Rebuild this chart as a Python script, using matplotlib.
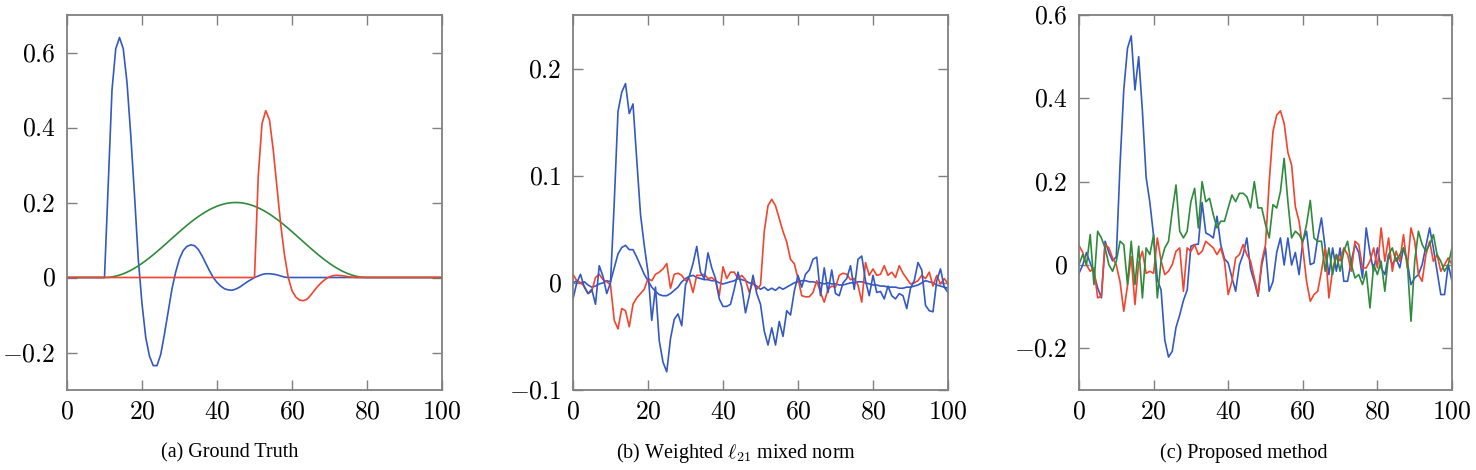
import matplotlib
matplotlib.use("Agg")
import matplotlib.pyplot as plt
import numpy as np

plt.rcParams['mathtext.fontset'] = 'cm'
plt.rcParams['font.family'] = ['Liberation Serif', 'DejaVu Serif']

# ---------------- data ----------------
x = list(range(0, 101))

# (a) Ground truth
gt_blue = [0]*11 + [
    0.25, 0.50, 0.61, 0.64, 0.61, 0.52, 0.38, 0.22, 0.05, -0.07,
    -0.16, -0.21, -0.235, -0.235, -0.205, -0.15, -0.09, -0.03, 0.015, 0.05,
    0.072, 0.083, 0.087, 0.085, 0.075, 0.058, 0.038, 0.018, 0.0, -0.013,
    -0.023, -0.03, -0.033, -0.034, -0.031, -0.026, -0.019, -0.012, -0.006, 0.0,
    0.004, 0.008, 0.010, 0.010, 0.009, 0.007, 0.004, 0.001] + [0]*42
gt_green = [0]*11 + [
    0.0004, 0.0016, 0.0036, 0.0064, 0.0099, 0.0142, 0.0191, 0.0247, 0.0309, 0.0377,
    0.0449, 0.0526, 0.0607, 0.0691, 0.0777, 0.0866, 0.0955, 0.1045, 0.1134, 0.1223,
    0.1309, 0.1393, 0.1474, 0.1551, 0.1623, 0.1691, 0.1753, 0.1809, 0.1858, 0.1901,
    0.1936, 0.1964, 0.1984, 0.1996, 0.2000, 0.1996, 0.1984, 0.1964, 0.1936, 0.1901,
    0.1858, 0.1809, 0.1753, 0.1691, 0.1623, 0.1551, 0.1474, 0.1393, 0.1309, 0.1223,
    0.1134, 0.1045, 0.0955, 0.0866, 0.0777, 0.0691, 0.0607, 0.0526, 0.0449, 0.0377,
    0.0309, 0.0247, 0.0191, 0.0142, 0.0099, 0.0064, 0.0036, 0.0016, 0.0004] + [0]*21
gt_red = [0]*51 + [
    0.27, 0.41, 0.445, 0.42, 0.34, 0.24, 0.14, 0.06, 0.0, -0.035,
    -0.052, -0.06, -0.062, -0.058, -0.047, -0.034, -0.022, -0.012, -0.004, 0.002,
    0.005, 0.006, 0.005, 0.004, 0.002, 0.001] + [0]*24

# (b) Weighted l21 mixed norm
w_blue1 = [
    -0.015, 0.0, 0.008, -0.004, -0.010, -0.006, -0.020, 0.016, 0.006, -0.010,
    0.0, 0.075, 0.160, 0.178, 0.186, 0.158, 0.167, 0.115, 0.064, 0.035,
    0.010, -0.035, -0.004, -0.054, -0.074, -0.083, -0.052, -0.034, -0.029, -0.040,
    -0.002, 0.006, 0.018, 0.034, 0.010, 0.004, 0.028, 0.014, 0.004, -0.015,
    -0.022, -0.022, -0.020, -0.006, 0.010, -0.004, -0.028, -0.012, 0.007, -0.010,
    -0.020, -0.045, -0.058, -0.042, -0.058, -0.036, -0.050, -0.026, -0.030, -0.008,
    0.007, -0.004, 0.008, 0.012, 0.022, 0.024, -0.012, 0.014, -0.009, 0.012,
    -0.010, -0.012, 0.000, 0.004, 0.016, -0.006, 0.022, 0.025, 0.002, -0.012,
    0.007, -0.009, -0.008, -0.015, -0.003, -0.012, -0.015, -0.010, -0.012, -0.024,
    -0.005, 0.002, 0.019, 0.012, -0.021, -0.026, -0.027, 0.002, 0.013, -0.004,
    -0.009]
w_blue2 = [
    0.0, 0.002, 0.0, 0.001, -0.002, -0.004, -0.003, -0.001, 0.0, 0.002,
    0.001, 0.014, 0.027, 0.033, 0.035, 0.031, 0.031, 0.024, 0.016, 0.008,
    0.002, -0.004, -0.008, -0.011, -0.012, -0.012, -0.010, -0.007, -0.004, 0.001,
    0.004, 0.006, 0.007, 0.005, 0.004, 0.003, 0.003, 0.002, 0.002, 0.000,
    -0.001, 0.000, 0.001, 0.002, 0.004, 0.003, 0.002, 0.0, -0.001, -0.003,
    -0.006, -0.004, -0.007, -0.005, -0.007, -0.004, -0.006, -0.004, -0.002, 0.0,
    0.001, 0.002, 0.002, 0.001, 0.001, 0.0, 0.0, -0.001, 0.0, -0.001,
    -0.001, -0.002, -0.002, -0.001, 0.0, 0.0, 0.001, 0.001, 0.0, -0.001,
    -0.002, -0.002, -0.003, -0.003, -0.004, -0.004, -0.004, -0.005, -0.005, -0.004,
    -0.004, -0.003, -0.002, 0.0, 0.002, 0.001, 0.0, -0.002, -0.003, -0.004,
    -0.005]
w_red = [
    0.008, 0.002, 0.0, -0.003, -0.010, -0.008, 0.005, 0.008, 0.003, 0.001,
    -0.002, -0.035, -0.043, -0.024, -0.026, -0.041, -0.020, -0.014, -0.010, -0.006,
    0.004, 0.002, 0.008, 0.010, 0.013, 0.018, -0.005, 0.008, 0.009, 0.007,
    0.002, 0.004, -0.009, 0.007, 0.007, 0.008, 0.004, 0.005, 0.002, -0.012,
    0.015, 0.004, 0.010, 0.010, 0.004, 0.007, 0.003, -0.009, 0.001, -0.006,
    -0.002, 0.048, 0.072, 0.078, 0.072, 0.060, 0.048, 0.038, 0.022, 0.018,
    0.004, -0.012, -0.013, -0.013, -0.009, 0.002, -0.009, -0.018, -0.006, -0.003,
    -0.004, 0.007, 0.009, 0.008, 0.003, 0.004, -0.002, -0.018, 0.019, 0.007,
    0.013, 0.007, 0.008, 0.016, 0.007, 0.010, 0.005, 0.016, 0.009, 0.004,
    -0.001, 0.0, 0.002, 0.007, 0.004, 0.010, -0.003, 0.007, -0.001, 0.004,
    -0.001]

# (c) Proposed method
p_blue = [
    -0.020, 0.0, 0.030, 0.005, -0.020, -0.055, -0.079, 0.057, 0.030, 0.010,
    0.020, 0.240, 0.420, 0.520, 0.550, 0.420, 0.500, 0.370, 0.210, 0.150,
    0.070, -0.035, -0.060, -0.180, -0.221, -0.207, -0.150, -0.120, -0.085, -0.060,
    0.045, 0.049, 0.050, 0.150, 0.077, 0.072, 0.065, 0.117, 0.049, 0.015,
    0.005, -0.030, -0.063, 0.0, 0.025, 0.065, -0.010, -0.040, -0.075, 0.0,
    0.041, -0.063, -0.040, 0.030, 0.065, 0.0, 0.065, 0.0, 0.030, -0.023,
    0.057, 0.081, 0.001, 0.005, 0.065, 0.113, 0.041, -0.023, 0.041, -0.015,
    0.041, -0.039, -0.039, 0.009, 0.049, 0.030, -0.031, 0.089, 0.030, -0.015,
    0.041, -0.007, -0.023, 0.025, 0.001, 0.017, -0.007, 0.041, 0.009, -0.047,
    -0.031, -0.023, 0.001, 0.045, 0.089, 0.041, -0.015, -0.071, -0.071, 0.001,
    -0.039]
p_red = [
    0.047, 0.030, 0.0, -0.015, -0.007, -0.079, -0.075, 0.049, 0.041, 0.017,
    0.0, -0.040, -0.111, -0.050, 0.020, -0.095, 0.005, 0.033, -0.020, -0.015,
    -0.020, 0.065, 0.010, -0.023, -0.015, 0.001, 0.033, 0.041, -0.063, 0.041,
    0.033, 0.049, 0.025, 0.033, 0.057, 0.049, 0.041, 0.025, 0.041, 0.009,
    -0.071, -0.039, 0.017, 0.025, 0.049, 0.025, 0.009, -0.031, -0.071, 0.009,
    0.049, 0.200, 0.320, 0.360, 0.370, 0.340, 0.270, 0.240, 0.140, 0.105,
    0.040, -0.039, -0.087, -0.071, -0.063, -0.015, 0.041, -0.079, -0.010, 0.025,
    0.010, 0.041, 0.025, -0.015, 0.057, 0.049, -0.007, -0.007, 0.009, 0.041,
    -0.007, 0.089, 0.009, 0.065, -0.015, 0.033, 0.009, 0.073, -0.007, 0.089,
    0.057, -0.023, -0.039, 0.025, 0.057, 0.009, 0.025, -0.015, 0.001, 0.017,
    0.001]
p_green = [
    0.001, 0.025, 0.0, 0.073, -0.047, 0.081, 0.065, 0.041, 0.001, -0.015,
    0.009, 0.057, 0.049, -0.047, 0.057, -0.047, 0.045, -0.079, 0.041, 0.025,
    0.073, -0.079, 0.009, 0.041, 0.057, 0.129, 0.192, 0.081, 0.065, 0.081,
    0.152, 0.184, 0.089, 0.200, 0.152, 0.160, 0.121, 0.089, 0.105, 0.105,
    0.137, 0.168, 0.152, 0.172, 0.172, 0.164, 0.137, 0.200, 0.137, 0.137,
    0.097, 0.065, 0.145, 0.137, 0.176, 0.256, 0.152, 0.065, 0.081, 0.073,
    0.057, 0.097, 0.155, 0.065, 0.057, 0.057, -0.015, 0.041, -0.023, 0.025,
    -0.015, 0.033, 0.057, 0.001, -0.031, -0.023, -0.047, -0.015, -0.103, 0.001,
    -0.023, 0.009, -0.063, 0.025, 0.041, 0.009, 0.025, 0.041, 0.009, -0.135,
    0.009, 0.081, 0.049, 0.033, 0.049, 0.073, 0.025, 0.009, -0.015, 0.001,
    0.041]

xticks = [0, 20, 40, 60, 80, 100]
yticks_a = [-0.2, 0, 0.2, 0.4, 0.6]
yticks_b = [-0.1, 0, 0.1, 0.2]
yticks_c = [-0.2, 0, 0.2, 0.4, 0.6]
captions = ["(a) Ground Truth", r"(b) Weighted $\ell_{21}$ mixed norm", "(c) Proposed method"]

BLUE = '#3458c4'
RED = '#f2442e'
GREEN = '#2f8a3c'
FRAME = '#808080'

fig = plt.figure(figsize=(14.76, 4.70), dpi=100)

W, H = 1476, 470
def add_ax(left_px, right_px, top_px=15, bottom_px=390):
    return fig.add_axes([left_px / W, 1 - bottom_px / H,
                         (right_px - left_px) / W, (bottom_px - top_px) / H])

ax1 = add_ax(67, 442)
ax2 = add_ax(573, 948)
ax3 = add_ax(1079, 1452)

lw = 1.2
ax1.plot(x, gt_blue, color=BLUE, lw=lw)
ax1.plot(x, gt_green, color=GREEN, lw=lw)
ax1.plot(x, gt_red, color=RED, lw=lw)
ax1.set_ylim(-0.3, 0.7)

ax2.plot(x, w_blue2, color=BLUE, lw=lw)
ax2.plot(x, w_red, color=RED, lw=lw)
ax2.plot(x, w_blue1, color=BLUE, lw=lw)
ax2.set_ylim(-0.1, 0.25)

ax3.plot(x, p_blue, color=BLUE, lw=lw)
ax3.plot(x, p_red, color=RED, lw=lw)
ax3.plot(x, p_green, color=GREEN, lw=lw)
ax3.set_ylim(-0.3, 0.6)

def fmt(v):
    s = f'{v:g}'
    return '$' + s + '$'

for ax, yt in ((ax1, yticks_a), (ax2, yticks_b), (ax3, yticks_c)):
    ax.set_xlim(0, 100)
    ax.set_xticks(xticks)
    ax.set_xticklabels([fmt(v) for v in xticks])
    ax.set_yticks(yt)
    ax.set_yticklabels([fmt(v) for v in yt])
    for sp in ax.spines.values():
        sp.set_color(FRAME)
        sp.set_linewidth(1.3)
    ax.tick_params(direction='in', length=7, width=1.0, color=FRAME,
                   top=True, right=True, labelsize=18.5, pad=8)

centers = [230, 736, 1244]
for cx, cap in zip(centers, captions):
    fig.text(cx / W, 1 - 453 / H, cap, ha='center', va='center', fontsize=14.5)

fig.savefig('out.png', dpi=100)
